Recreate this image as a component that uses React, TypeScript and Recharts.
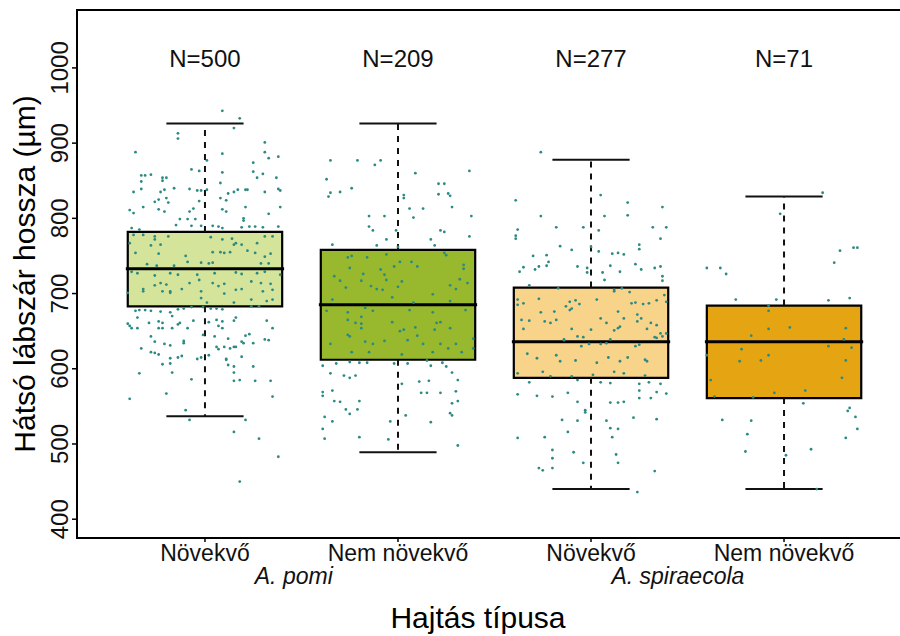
import React from "react";
import {
  ComposedChart,
  Scatter,
  XAxis,
  YAxis,
  ReferenceArea,
  ReferenceLine,
  ReferenceDot,
} from "recharts";

const shootTypes = ["Növekvő", "Nem növekvő", "Növekvő", "Nem növekvő"];
const species = ["A. pomi", "A. spiraecola"];
const speciesTickPos = [1.46, 3.45];
const counts = [500, 209, 277, 71];
const boxFills = ["#d4e59b", "#98b92e", "#f7d48a", "#e5a512"];

// box plot statistics (µm)
const whiskerLow = [537, 489, 440, 440];
const q1 = [683, 612, 588, 561];
const median = [733, 685, 636, 636];
const q3 = [782, 758, 708, 684];
const whiskerHigh = [926, 926, 878, 829];

const yTicks = [400, 500, 600, 700, 800, 900, 1000];

// jittered observations: [horizontal jitter, hind tibia length]
const pomiGrowing: [number, number][] = [
  [0.09, 943], [0.18, 933], [0.15, 920], [-0.14, 913], [-0.14, 906], [0.31, 901], [-0.36, 888], [0.31, 888],
  [0.33, 880], [0.38, 882], [0.09, 886], [0.25, 874], [-0.07, 865], [0.01, 877], [-0.03, 863], [-0.33, 857],
  [-0.31, 857], [-0.28, 858], [-0.33, 849], [-0.22, 854], [-0.2, 854], [0.09, 861], [0.25, 862], [0.3, 859],
  [0.37, 854], [0.27, 854], [-0.22, 850], [0.08, 847], [-0.37, 835], [-0.33, 839], [-0.23, 835], [-0.21, 838],
  [-0.16, 840], [-0.08, 839], [-0.04, 837], [-0.02, 837], [0.01, 838], [0.12, 833], [0.15, 835], [0.17, 838],
  [0.21, 838], [0.22, 838], [0.31, 835], [0.38, 839], [0.39, 837], [-0.26, 822], [-0.24, 825], [-0.2, 827],
  [-0.19, 821], [-0.32, 815], [-0.39, 811], [-0.37, 807], [-0.24, 812], [-0.21, 809], [-0.08, 809], [-0.06, 813],
  [-0.03, 823], [0.08, 827], [0.11, 824], [0.09, 812], [0.11, 809], [0.21, 815], [0.39, 815], [0.2, 800],
  [0.2, 797], [-0.13, 799], [-0.09, 799], [-0.05, 799], [-0.15, 791], [-0.07, 790], [-0.02, 790], [0.04, 790],
  [0.07, 789], [0.09, 787], [-0.38, 787], [-0.34, 785], [0.19, 788], [0.23, 789], [0.26, 789], [0.33, 806],
  [0.3, 788], [0.38, 789],
  [-0.37, 778], [-0.32, 778], [-0.26, 776], [-0.19, 776], [-0.39, 767], [-0.26, 772], [-0.23, 765], [-0.28, 764],
  [0.03, 775], [0.09, 772], [0.14, 773], [0.16, 767], [0.15, 765], [0.19, 765], [0.27, 767], [0.31, 776],
  [0.35, 776], [-0.1, 750], [0.04, 755], [0.08, 755], [-0.24, 753], [-0.36, 754], [0.22, 757], [0.26, 754],
  [0.34, 753], [0.31, 749], [-0.09, 742], [-0.3, 739], [-0.25, 737], [-0.16, 737], [-0.02, 741], [0.02, 740],
  [0.04, 741], [0.1, 754], [0.13, 755], [0.29, 740], [0.33, 740], [-0.38, 729], [-0.35, 727], [-0.26, 724],
  [-0.18, 727], [-0.14, 725], [-0.04, 725], [0.05, 727], [0.16, 728], [0.19, 726], [0.27, 727], [0.31, 729],
  [0.39, 725], [-0.23, 714], [-0.2, 712], [-0.26, 711], [-0.08, 714], [-0.03, 718], [0.04, 714], [0.07, 710],
  [0.1, 713], [0.24, 716], [0.29, 714], [0.34, 713], [-0.32, 706], [-0.18, 703], [-0.12, 706], [-0.02, 703],
  [0.1, 700], [0.16, 705], [0.19, 706], [0.3, 703], [0.35, 705], [-0.4, 701], [-0.32, 703], [-0.22, 703],
  [-0.18, 701], [-0.02, 694], [0.01, 688], [0.15, 688], [0.24, 692], [0.32, 690], [0.35, 692],
  [-0.36, 677], [-0.34, 678], [-0.31, 678], [-0.28, 677], [-0.23, 676], [-0.18, 675], [-0.14, 679], [-0.11, 680],
  [-0.07, 682], [-0.01, 682], [0.03, 680], [0.06, 680], [0.09, 679], [0.24, 683], [0.28, 683], [-0.35, 668],
  [-0.17, 670], [-0.06, 664], [0.16, 668], [-0.4, 660], [-0.39, 657], [-0.29, 661], [-0.24, 663], [-0.22, 661],
  [-0.14, 659], [-0.13, 661], [0.02, 662], [0.06, 665], [0.09, 663], [0.15, 664], [0.07, 657], [0.09, 654],
  [0.32, 664], [-0.38, 654], [-0.35, 654], [-0.24, 654], [-0.22, 654], [-0.17, 654], [-0.09, 654], [0.35, 654],
  [-0.28, 643], [-0.01, 645], [0.05, 643], [0.12, 640], [0.21, 644], [0.23, 646], [0.31, 639], [0.33, 638],
  [-0.26, 636], [-0.21, 633], [-0.18, 631], [-0.11, 637], [-0.11, 634], [0.19, 636], [0.2, 634], [0.25, 634],
  [-0.33, 627], [0.06, 629], [0.07, 626], [0.1, 629], [0.13, 627], [0.15, 629], [0.16, 629], [-0.28, 622],
  [-0.26, 621], [-0.24, 619], [-0.18, 614], [-0.14, 615], [-0.12, 617], [-0.04, 613], [-0.02, 615], [0.02, 618],
  [0.11, 613], [0.11, 612], [0.19, 616], [-0.22, 606], [-0.18, 607], [0.12, 605], [0.15, 603], [0.25, 603],
  [-0.34, 594], [-0.17, 595], [0.15, 595], [-0.07, 586], [0.15, 584], [0.18, 585], [0.26, 584], [0.34, 584],
  [-0.2, 567], [-0.39, 560], [0.35, 563], [-0.1, 545], [-0.08, 532], [0.21, 532], [0.15, 516], [0.28, 507],
  [0.38, 483], [0.18, 450],
];

const pomiStatic: [number, number][] = [
  [-0.35, 877], [-0.21, 877], [-0.12, 871], [-0.09, 877], [-0.37, 852], [-0.35, 834], [-0.36, 829], [-0.3, 835],
  [-0.24, 840], [0.09, 860], [0.37, 863], [0.21, 846], [0.24, 846], [0.03, 831], [0.03, 827], [0.21, 832],
  [0.26, 833], [0.27, 830], [0.06, 813], [0.13, 813], [0.28, 815], [0.08, 801], [0.38, 803], [-0.15, 803],
  [-0.07, 803], [-0.15, 789], [-0.13, 784], [-0.01, 784], [0.22, 784], [0.24, 782], [0.37, 776], [-0.06, 772],
  [0.17, 772], [-0.34, 765], [-0.11, 764], [0, 762], [0.19, 764],
  [-0.26, 748], [-0.24, 750], [-0.16, 748], [-0.06, 752], [0.01, 742], [0.07, 742], [-0.25, 734], [-0.09, 732],
  [-0.02, 736], [0.1, 736], [0.24, 754], [0.25, 751], [0.34, 738], [0.34, 733], [-0.33, 723], [-0.18, 726],
  [-0.07, 725], [-0.3, 717], [-0.19, 717], [-0.06, 718], [0.02, 716], [0.32, 719], [0.36, 714], [-0.27, 708],
  [-0.14, 710], [-0.11, 706], [-0.08, 705], [0, 709], [0.27, 711], [0.3, 706], [-0.34, 692], [-0.03, 695],
  [0.08, 688], [0.18, 699], [0.27, 690], [-0.37, 677], [-0.26, 675], [-0.17, 681], [-0.13, 677], [0.06, 678],
  [0.18, 675], [0.35, 678], [-0.26, 665], [-0.19, 669], [-0.22, 661], [-0.19, 660], [-0.03, 662], [0.09, 655],
  [0.2, 661], [0.22, 662], [0.27, 654], [-0.26, 645], [-0.19, 654], [0.01, 650], [0.03, 652], [0.1, 644],
  [0.19, 652], [0.39, 640], [-0.25, 643], [-0.17, 636], [-0.13, 633], [-0.07, 637], [0.05, 638], [0.13, 633],
  [0.22, 633], [0.3, 633], [-0.35, 633], [-0.24, 622], [-0.15, 622], [0.02, 619], [0.18, 622], [0.26, 627],
  [0.33, 622], [0.39, 627],
  [-0.39, 604], [-0.32, 607], [-0.25, 609], [-0.2, 608], [-0.16, 608], [-0.02, 607], [0.05, 607], [0.15, 611],
  [0.17, 604], [0.23, 608], [0.25, 603], [-0.35, 594], [-0.28, 591], [-0.25, 588], [-0.22, 591], [0.28, 595],
  [0.02, 580], [0.11, 583], [0.16, 584], [0.31, 585], [-0.39, 569], [-0.39, 564], [-0.34, 571], [0.12, 568],
  [0.15, 568], [0.22, 568], [0.3, 570], [-0.33, 557], [-0.3, 556], [-0.2, 557], [0.28, 554], [0.31, 557],
  [-0.27, 546], [-0.21, 546], [-0.25, 540], [0.04, 538], [0.27, 541], [0.28, 538], [-0.38, 536], [-0.34, 530],
  [-0.04, 530], [0.17, 529], [-0.39, 520], [-0.38, 507], [-0.2, 509], [-0.05, 506], [0.31, 498],
];

const spiraGrowing: [number, number][] = [
  [-0.26, 888], [0.05, 831], [0.19, 821], [0.37, 815], [-0.39, 824], [-0.26, 803], [0.07, 803], [0.19, 804],
  [-0.38, 785], [-0.18, 788], [-0.04, 788], [0.04, 784], [0.32, 788], [0.39, 788], [-0.39, 777], [-0.39, 773],
  [0.36, 773], [0.25, 765], [0.25, 759], [-0.16, 763], [-0.1, 758], [0, 762], [0.04, 756], [-0.3, 750],
  [-0.23, 751], [0.11, 753], [0.14, 754], [0.17, 752], [-0.22, 742], [0.23, 739], [0.26, 732], [-0.35, 735],
  [-0.29, 732], [-0.27, 736], [-0.23, 737], [-0.07, 736], [-0.02, 734], [0.1, 737], [0.15, 729], [0.33, 734],
  [0.36, 736], [-0.37, 729], [-0.02, 728], [0.06, 728], [0.37, 723], [0.37, 717], [-0.32, 711], [-0.17, 707],
  [0.07, 718], [0.12, 705], [0.16, 707],
  [-0.38, 692], [-0.38, 685], [-0.35, 687], [-0.27, 693], [-0.13, 683], [-0.11, 689], [-0.1, 680], [-0.08, 691],
  [-0.06, 686], [0.03, 692], [0.12, 703], [0.2, 702], [0.23, 688], [0.27, 686], [0.3, 687], [0.34, 691],
  [0.38, 698], [0.39, 689], [-0.26, 675], [-0.19, 676], [-0.11, 678], [0.14, 676], [0.21, 687], [0.24, 672],
  [0.26, 667], [-0.36, 665], [-0.32, 664], [-0.24, 663], [-0.21, 661], [-0.18, 665], [0.05, 667], [0.15, 656],
  [0.17, 667], [0.24, 663], [0.31, 661], [0.34, 658], [-0.35, 653], [-0.1, 653], [0, 652], [0.08, 661],
  [0.12, 651], [0.14, 654], [0.29, 653], [0.36, 647], [-0.14, 639], [-0.07, 643], [-0.04, 642], [0.1, 639],
  [0.34, 641], [0.37, 643], [0.39, 647], [-0.14, 638], [-0.05, 630], [-0.01, 633], [0.05, 633], [0.08, 634],
  [0.23, 630], [0.25, 632], [0.33, 642], [-0.33, 620], [-0.28, 614], [-0.18, 618], [-0.16, 610], [-0.08, 611],
  [0.03, 608], [0.09, 615], [0.15, 610], [0.19, 615], [0.28, 612], [0.29, 610], [-0.38, 594], [-0.25, 596],
  [-0.21, 590], [-0.1, 590], [0.01, 592], [0.12, 596], [0.17, 594], [0.28, 591],
  [-0.32, 582], [-0.07, 585], [0.05, 582], [0.1, 581], [0.25, 580], [0.3, 582], [0.36, 580], [-0.38, 566],
  [-0.28, 564], [-0.2, 563], [-0.12, 568], [0.25, 571], [0.25, 561], [0.31, 561], [0.39, 567], [0.34, 569],
  [-0.07, 556], [-0.03, 545], [-0.03, 542], [0.1, 555], [0.14, 555], [0.17, 556], [-0.15, 532], [-0.07, 531],
  [0.08, 531], [0.22, 535], [0.34, 533], [-0.12, 516], [0.1, 521], [0.14, 520], [0.11, 509], [-0.38, 508],
  [-0.24, 509], [-0.2, 492], [-0.09, 489], [0.13, 486], [-0.2, 481], [-0.04, 475], [0.14, 475], [-0.27, 468],
  [-0.25, 465], [-0.2, 468], [0.33, 464], [0.24, 436],
];

const spiraStatic: [number, number][] = [
  [0.2, 834], [-0.02, 806], [0.29, 757], [0.36, 761], [0.38, 761], [0.26, 741], [-0.4, 734], [-0.33, 734],
  [-0.3, 726], [-0.25, 692], [-0.04, 692], [0.23, 691], [0.34, 694], [-0.08, 684], [-0.08, 677], [0.03, 655],
  [-0.08, 653], [0.32, 654], [-0.17, 644], [0.31, 639], [-0.22, 626], [0.35, 628], [0.23, 630], [-0.4, 618],
  [-0.23, 610], [-0.12, 611], [-0.08, 618], [0.32, 611], [-0.38, 585], [0.3, 588], [-0.05, 568], [0.11, 571],
  [-0.36, 563], [-0.16, 562], [0.1, 554], [0.34, 548], [0.33, 544], [0.37, 536], [-0.32, 532], [-0.17, 531],
  [0.38, 520], [-0.19, 513], [0.32, 508], [-0.2, 490], [0.01, 485], [0.14, 493], [0.17, 440],
];

const X_DOMAIN: [number, number] = [0.337, 4.663];
const TEXT = "#111";

const points = [pomiGrowing, pomiStatic, spiraGrowing, spiraStatic].flatMap((pts, i) =>
  pts.map(([dx, v]) => ({ x: i + 1 + dx, y: v }))
);

const Dot = (props: any) => <circle cx={props.cx} cy={props.cy} r={1.4} fill="#2c8a83" />;

const YTick = ({ x, y, payload }: any) => (
  <text
    x={x - 2}
    y={y}
    transform={`rotate(-90 ${x - 2} ${y})`}
    textAnchor="middle"
    fontSize={24}
    fill={TEXT}
  >
    {payload.value}
  </text>
);

export default function App() {
  return (
    <div
      style={{
        position: "fixed",
        left: 0,
        top: 0,
        width: 900,
        height: 636,
        overflow: "hidden",
        background: "#fff",
        fontFamily: '"Liberation Sans", Arial, sans-serif',
      }}
    >
      <ComposedChart width={930} height={636} margin={{ top: 10, right: 18, bottom: 0, left: 0 }}>
        <XAxis
          dataKey="x"
          type="number"
          domain={X_DOMAIN}
          allowDataOverflow
          ticks={[1, 2, 3, 4]}
          interval={0}
          tickFormatter={(v: number) => shootTypes[v - 1]}
          height={30}
          tickSize={4}
          tickMargin={3}
          axisLine={{ stroke: "#000", strokeWidth: 2 }}
          tickLine={{ stroke: "#000", strokeWidth: 1.5 }}
          tick={{ fontSize: 23, fill: TEXT }}
        />
        <XAxis
          xAxisId="sp"
          dataKey="x"
          type="number"
          domain={X_DOMAIN}
          allowDataOverflow
          ticks={speciesTickPos}
          interval={0}
          tickFormatter={(_v: number, i: number) => species[i]}
          height={68}
          tickSize={0}
          tickMargin={0}
          axisLine={false}
          tickLine={false}
          tick={{ fontSize: 23, fill: TEXT, fontStyle: "italic" }}
          label={{
            content: () => (
              <text x={478} y={628} textAnchor="middle" fontSize={30} fill="#000">
                Hajtás típusa
              </text>
            ),
          }}
        />
        <YAxis
          type="number"
          domain={[375, 1077]}
          allowDataOverflow
          ticks={yTicks}
          interval={0}
          width={77}
          tickSize={5}
          axisLine={{ stroke: "#000", strokeWidth: 2 }}
          tickLine={{ stroke: "#000", strokeWidth: 1.5 }}
          tick={YTick}
          label={{
            content: () => (
              <text x={35} y={274} transform="rotate(-90 35 274)" textAnchor="middle" fontSize={30} fill="#000">
                Hátsó lábszár hossza (µm)
              </text>
            ),
          }}
        />

        {/* panel border */}
        <ReferenceArea
          x1={X_DOMAIN[0]}
          x2={X_DOMAIN[1]}
          y1={375}
          y2={1077}
          fill="none"
          stroke="#000"
          strokeWidth={2}
        />

        {/* whiskers */}
        {shootTypes.map((_, i) => (
          <ReferenceLine
            key={`wu${i}`}
            segment={[{ x: i + 1, y: q3[i] }, { x: i + 1, y: whiskerHigh[i] }]}
            stroke="#111"
            strokeWidth={2}
            strokeDasharray="6 6"
          />
        ))}
        {shootTypes.map((_, i) => (
          <ReferenceLine
            key={`wl${i}`}
            segment={[{ x: i + 1, y: q1[i] }, { x: i + 1, y: whiskerLow[i] }]}
            stroke="#111"
            strokeWidth={2}
            strokeDasharray="6 6"
          />
        ))}
        {shootTypes.map((_, i) => (
          <ReferenceLine
            key={`cu${i}`}
            segment={[{ x: i + 0.8, y: whiskerHigh[i] }, { x: i + 1.2, y: whiskerHigh[i] }]}
            stroke="#111"
            strokeWidth={2}
          />
        ))}
        {shootTypes.map((_, i) => (
          <ReferenceLine
            key={`cl${i}`}
            segment={[{ x: i + 0.8, y: whiskerLow[i] }, { x: i + 1.2, y: whiskerLow[i] }]}
            stroke="#111"
            strokeWidth={2}
          />
        ))}

        {/* boxes */}
        {shootTypes.map((_, i) => (
          <ReferenceArea
            key={`box${i}`}
            x1={i + 0.6}
            x2={i + 1.4}
            y1={q1[i]}
            y2={q3[i]}
            fill={boxFills[i]}
            fillOpacity={1}
            stroke="#000"
            strokeWidth={2.2}
          />
        ))}
        {shootTypes.map((_, i) => (
          <ReferenceLine
            key={`med${i}`}
            segment={[{ x: i + 0.59, y: median[i] }, { x: i + 1.41, y: median[i] }]}
            stroke="#000"
            strokeWidth={3}
          />
        ))}

        <Scatter data={points} dataKey="y" shape={Dot} isAnimationActive={false} />

        {counts.map((n, i) => (
          <ReferenceDot
            key={`n${i}`}
            x={i + 1}
            y={1013}
            r={0}
            fill="none"
            stroke="none"
            label={{ value: `N=${n}`, position: "center", fontSize: 24, fill: TEXT }}
          />
        ))}
      </ComposedChart>
    </div>
  );
}
